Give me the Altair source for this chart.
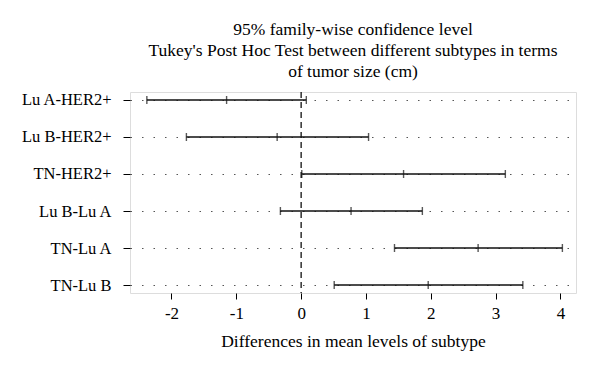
import altair as alt
import pandas as pd

comparisons = ["Lu A-HER2+", "Lu B-HER2+", "TN-HER2+", "Lu B-Lu A", "TN-Lu A", "TN-Lu B"]
lwr = [-2.38, -1.77, 0.01, -0.32, 1.44, 0.51]
diff = [-1.15, -0.37, 1.58, 0.77, 2.73, 1.96]
upr = [0.08, 1.04, 3.15, 1.87, 4.03, 3.42]
x_ticks = [-2, -1, 0, 1, 2, 3, 4]
title_lines = [
    "95% family-wise confidence level",
    "Tukey's Post Hoc Test between different subtypes in terms",
    "of tumor size (cm)",
]
x_title = "Differences in mean levels of subtype"

df = pd.DataFrame({"comp": comparisons, "lwr": lwr, "diff": diff, "upr": upr})

FONT = "Liberation Serif"
W, H = 446, 201

xscale = alt.Scale(domain=[-2.64, 4.24], nice=False, zero=False)
yscale = alt.Scale(type="point", padding=0.216)

xenc = alt.X("lwr:Q", scale=xscale,
             axis=alt.Axis(values=x_ticks, labelExpr="datum.value + ''", title=x_title,
                           grid=False, domain=False,
                           tickSize=6, tickColor="black", tickWidth=1,
                           labelFontSize=17, labelFont=FONT, labelColor="black",
                           labelPadding=6, titleFont=FONT, titleFontSize=17.5,
                           titleFontWeight="normal", titleColor="black", titlePadding=11))
yenc = alt.Y("comp:N", sort=comparisons, scale=yscale,
             axis=alt.Axis(title=None, grid=True, gridDash=[1.5, 10], gridColor="#555",
                           gridWidth=1.2, domain=False, tickSize=7, tickColor="black",
                           tickWidth=1, labelFontSize=16.5, labelFont=FONT,
                           labelColor="black", labelPadding=12))

base = alt.Chart(df)

bars = base.mark_rule(color="#111", strokeWidth=1.6).encode(
    x=xenc, x2="upr:Q", y=yenc
)
tick_l = base.mark_tick(color="#111", size=8, thickness=1.4, orient="vertical").encode(
    x=alt.X("lwr:Q", scale=xscale), y=alt.Y("comp:N", sort=comparisons, scale=yscale)
)
tick_m = base.mark_tick(color="#111", size=8, thickness=1.4, orient="vertical").encode(
    x=alt.X("diff:Q", scale=xscale), y=alt.Y("comp:N", sort=comparisons, scale=yscale)
)
tick_u = base.mark_tick(color="#111", size=8, thickness=1.4, orient="vertical").encode(
    x=alt.X("upr:Q", scale=xscale), y=alt.Y("comp:N", sort=comparisons, scale=yscale)
)
zero = alt.Chart(pd.DataFrame({"z": [0]})).mark_rule(
    color="#111", strokeWidth=1.3, strokeDash=[6, 4]
).encode(x=alt.X("z:Q", scale=xscale))

chart = alt.layer(zero, bars, tick_l, tick_m, tick_u).properties(
    width=W, height=H,
    title=alt.TitleParams(text=title_lines, font=FONT, fontSize=17.5, fontWeight="normal",
                          color="black", anchor="middle", lineHeight=21, offset=11),
    autosize=alt.AutoSizeParams(type="none"),
    padding={"left": 122, "top": 84, "right": 16, "bottom": 71},
).configure_view(stroke="black", strokeWidth=1.2).configure(background="white")

chart.save("out.html", embed_options={"renderer": "svg", "actions": False})
